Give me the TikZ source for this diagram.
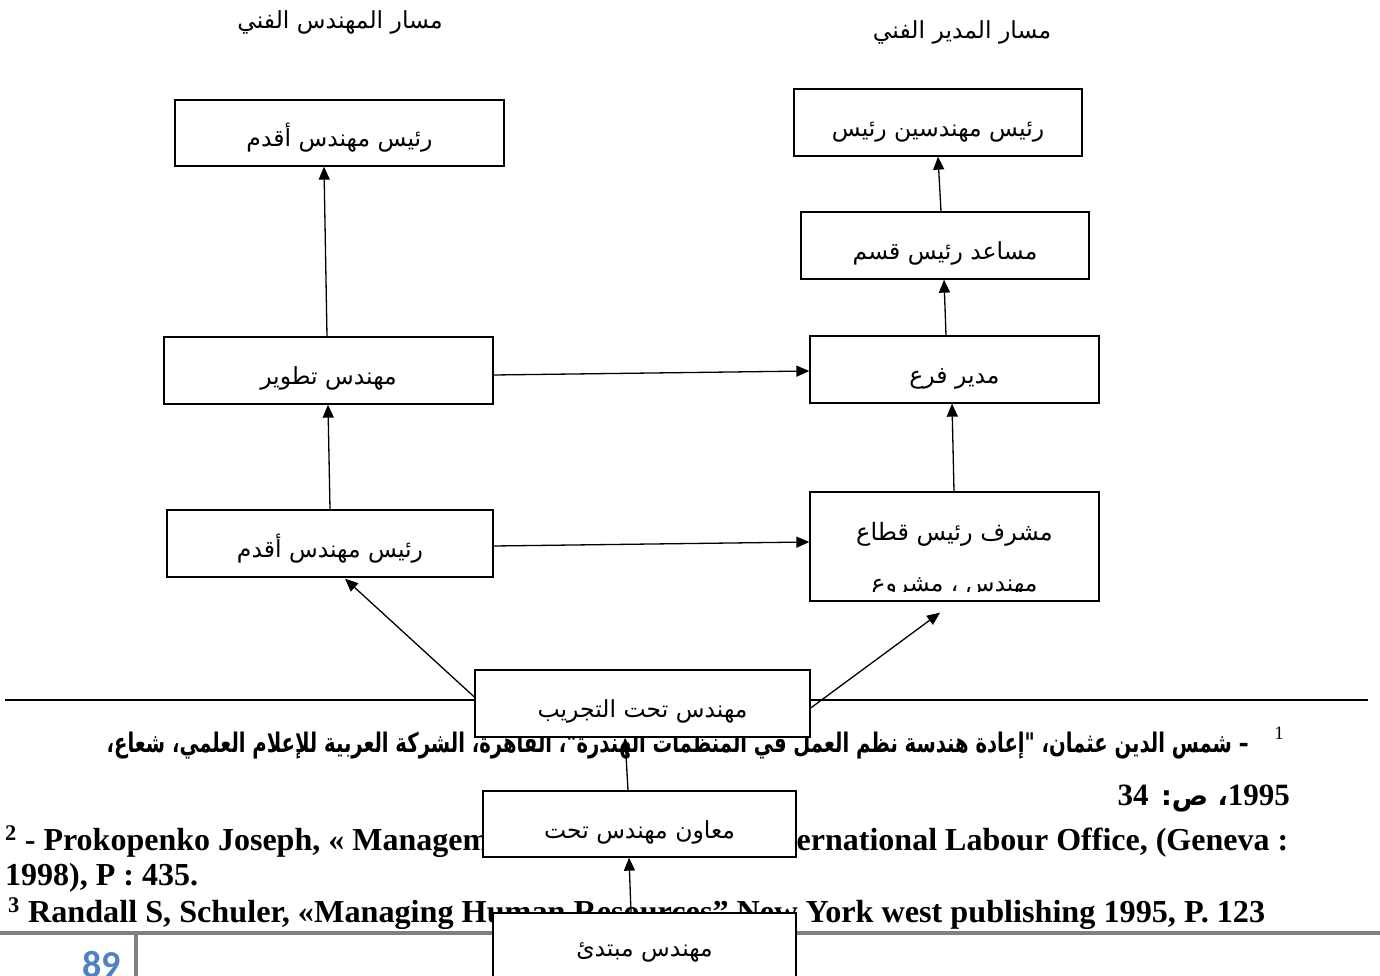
\documentclass[tikz,border=0pt]{standalone}
\usepackage{fontspec}
\setmainfont{Liberation Serif}
\newfontfamily\arabicfont[Script=Arabic]{DejaVu Sans}
\newfontfamily\pagefont{Carlito}
\TeXXeTstate=1
\usetikzlibrary{arrows.meta,calc}
\definecolor{pgblue}{RGB}{79,129,189}
\definecolor{pggray}{RGB}{128,128,128}
\newcommand{\artxt}[1]{{\arabicfont\beginR #1\endR}}
\begin{document}
\begin{tikzpicture}[x=1pt,y=-1pt,
  box/.style={draw, line width=1.3pt, fill=white, inner sep=0pt,
    text height=28pt, text depth=0pt,
    font=\arabicfont\fontsize{23.5}{27}\selectfont},
  lbl/.style={inner sep=0pt, font=\arabicfont\fontsize{23.5}{27}\selectfont},
  con/.style={line width=1.3pt, -{Triangle[length=13pt,width=11pt]}},
  fnote/.style={inner sep=0pt, font=\bfseries\fontsize{32}{36}\selectfont},
  fnar/.style={inner sep=0pt, font=\arabicfont\bfseries\fontsize{27}{30}\selectfont},
  rule/.style={line width=2pt},
  grayrule/.style={pggray, line width=4.5pt}
]
\useasboundingbox (0,0) rectangle (1380,976);
\clip (0,0) rectangle (1380,976);

% titles
\node[lbl] (t1) at (340,22) {\artxt{مسار المهندس الفني}};
\node[lbl] (t2) at (962,32) {\artxt{مسار المدير الفني}};

% footnote separator
\coordinate (s1) at (5,700);
\coordinate (s2) at (1368,700);
\draw[rule] (s1) -- (s2);

% footnotes
\node[fnar, anchor=base east] (f1a) at (1249,752)
  {\resizebox{1142pt}{\height}{\beginR – شمس الدين عثمان، "إعادة هندسة نظم العمل في المنظمات الهندرة"، القاهرة، الشركة العربية للإعلام العلمي، شعاع،\endR}};
\node[inner sep=0pt, font=\fontsize{19}{21}\selectfont, anchor=base] (f1n) at (1279,739) {1};
\node[fnar, anchor=base east] (f1b) at (1290,805)
  {\beginR\beginL{\rmfamily\fontsize{31}{34}\selectfont 1995}\endL، ص: \beginL{\rmfamily\fontsize{31}{34}\selectfont 34}\endL\endR};
\node[fnote, anchor=base west] (f2a) at (5,850)
  {\makebox[1283pt][l]{\textsuperscript{2} - Prokopenko Joseph, « Management\hfill International Labour Office, (Geneva :}};
\node[fnote, anchor=base west] (f2b) at (5,885) {1998), P : 435.};
\node[fnote, anchor=base west] (f3) at (8,922)
  {\resizebox{1257pt}{\height}{\textsuperscript{3} Randall S, Schuler, «Managing Human Resources” New York west publishing 1995, P. 123}};

% page footer
\coordinate (g1) at (0,933);
\coordinate (g2) at (1380,933);
\coordinate (g3) at (136,933);
\coordinate (g4) at (136,980);
\draw[grayrule] (g1) -- (g2);
\draw[grayrule] (g3) -- (g4);
\node[inner sep=0pt, anchor=base east, text=pgblue, font=\pagefont\bfseries\fontsize{38}{40}\selectfont] (pg) at (121,977) {89};

% boxes
\node[box, minimum width=329pt, minimum height=66pt] (A1) at (339.5,133) {\artxt{رئيس مهندس أقدم}};
\node[box, minimum width=288pt, minimum height=67pt] (B1) at (938,122.5) {\artxt{رئيس مهندسين رئيس}};
\node[box, minimum width=288pt, minimum height=67pt] (B2) at (945,245.5) {\artxt{مساعد رئيس قسم}};
\node[box, minimum width=329pt, minimum height=67pt] (A2) at (328.5,370.5) {\artxt{مهندس تطوير}};
\node[box, minimum width=289pt, minimum height=67pt] (B3) at (954.5,369.5) {\artxt{مدير فرع}};
\node[box, minimum width=326pt, minimum height=67pt] (A3) at (330,543.5) {\artxt{رئيس مهندس أقدم}};
\node[box, minimum width=289pt, minimum height=109pt] (B4) at (954.5,546.5) {};
\node[lbl, font=\arabicfont\fontsize{24}{28}\selectfont] (B4a) at (954.5,534) {\artxt{مشرف رئيس قطاع}};
\begin{scope}
  \clip (810,492) rectangle (1099,591);
  \node[lbl] (B4b) at (954.5,587) {\artxt{مهندس ، مشروع}};
\end{scope}
\node[box, minimum width=335pt, minimum height=67pt] (C1) at (642.5,703.5) {\artxt{مهندس تحت التجريب}};
\node[box, minimum width=313pt, minimum height=66pt] (C2) at (639.5,824) {\artxt{معاون مهندس تحت}};
\node[box, minimum width=303pt, minimum height=87pt] (C3) at (644.5,956.5) {};
\node[lbl] (C3t) at (644.5,952) {\artxt{مهندس مبتدئ}};

% connectors
\draw[con] ([xshift=-1.5pt]A2.north) -- ([xshift=-15.5pt]A1.south);
\draw[con] (A3.north) -- ([xshift=-0.5pt]A2.south);
\draw[con] ([yshift=-4.5pt]A2.east) -- ([yshift=-1.5pt]B3.west);
\draw[con] ([yshift=-2.5pt]A3.east) -- ([yshift=4.5pt]B4.west);
\draw[con] ([xshift=-8.5pt]B3.north) -- ([xshift=-1pt]B2.south);
\draw[con] ([xshift=-4pt]B2.north) -- (B1.south);
\draw[con] ([xshift=-0.5pt]B4.north) -- ([xshift=-2.5pt]B3.south);
\draw[con] ([yshift=6.5pt]C1.west) -- ([xshift=15pt,yshift=-1pt]A3.south);
\draw[con] ([yshift=-4.5pt]C1.east) -- ([xshift=-14.5pt,yshift=-11pt]B4.south);
\draw[con] ([xshift=-11.5pt]C2.north) -- ([xshift=-17.5pt]C1.south);
\draw[con] ([xshift=-13.5pt]C3.north) -- ([xshift=-10.5pt]C2.south);
\end{tikzpicture}
\end{document}
